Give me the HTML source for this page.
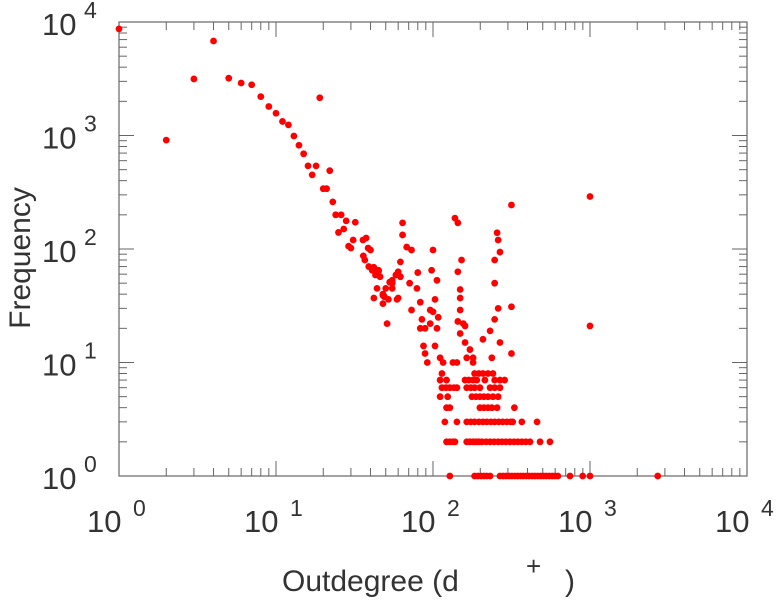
<!DOCTYPE html>
<html><head><meta charset="utf-8"><style>
html,body{margin:0;padding:0;background:#fff;}
svg{display:block;font-family:"Liberation Sans",sans-serif;}
</style></head><body>
<svg id="chart" width="779" height="600" viewBox="0 0 779 600" xmlns="http://www.w3.org/2000/svg">
<rect x="119" y="22" width="628" height="454" fill="none" stroke="#666" stroke-width="1.2"/>
<g id="ticks"></g>
<g id="labels"></g>
<g id="pts"></g>
<text transform="translate(30,258) rotate(-90)" text-anchor="middle" font-size="30" fill="#333">Frequency</text>
<text x="282" y="591" font-size="30" fill="#333">Outdegree (d</text>
<text x="526" y="575" font-size="26" fill="#333">+</text>
<text x="565" y="591" font-size="30" fill="#333">)</text>
</svg>
<script>
const xTicks=[1,10,100,1000,10000];
const xTickExp=["0","1","2","3","4"];
const yTicks=[1,10,100,1000,10000];
const yTickExp=["0","1","2","3","4"];
const outdegree=[1,2,3,4,5,6,7,8,9,10,11,12,13,14,15,16,17,18,19,20,21,22,23,24,25,26,27,28,29,30,31,32,
35.8,37.5,38.6,36,36.8,39,41,43,45,46,50,52,48,51,55,55,58,62,59,49,42,
40,42,45,44,48,48,53,55,60,60,64,64,68,73,62,71,80,79,73,83,85,83,89,87,89,92,98,100,106,103,96,100,108,96,106,103,111,116,
138,144,152,144,149,149,149,144,156,160,160,149,164,142,134,172,180,180,256,260,267,247,247,260,247,231,267,208,237,316,316,316,1000,1000,
114,184,196,208,224,241,
111,122,160,169,180,190,214,247,267,286,
114,121,128,136,142,164,174,184,199,231,247,267,
111,124,177,188,199,211,224,241,260,
122,128,199,211,224,237,256,330,
119,142,164,174,184,196,208,220,234,247,262,278,295,312,322,368,460,
122,128,134,138,164,172,180,188,196,205,218,231,245,260,275,291,309,328,347,368,390,415,481,556,
128,184,193,202,211,220,231,267,280,292,305,318,332,346,361,376,393,410,428,446,465,485,506,527,550,574,598,624,746,898,1000,2700];
const frequency=[8700,910,3150,6800,3200,2900,2800,2200,1800,1570,1330,1240,990,820,690,540,450,540,2150,340,340,490,260,200,140,200,150,177,106,102,120,172,
120,125,102,87,80,70,65,59,64,57,45,36,40,22,45,53,59,57,36,38,37,
98,69,65,45,39,33,51,50,63,37,170,133,104,98,77,50,62,45,29,34,24,20,20,14,12,10,65,98,53,36,29,28,25,22,20,14,11,10,
187,170,80,63,44,37,29,23,22,21,15,18,11,10,10,13,11,10,139,120,94,80,50,30,24,19,15,16,11,244,31,12,21,290,
8,8,8,8,8,8,
7,7,7,7,7,7,7,7,7,7,
6,6,6,6,6,6,6,6,6,6,6,6,
5,5,5,5,5,5,5,5,5,
4,4,4,4,4,4,4,4,
3,3,3,3,3,3,3,3,3,3,3,3,3,3,3,3,3,
2,2,2,2,2,2,2,2,2,2,2,2,2,2,2,2,2,2,2,2,2,2,2,2,
1,1,1,1,1,1,1,1,1,1,1,1,1,1,1,1,1,1,1,1,1,1,1,1,1,1,1,1,1,1,1,1];

const L=119,R=747,T=22,B=476;
function xs(v){return L+(R-L)*Math.log10(v)/4;}
function ys(v){return B-(B-T)*Math.log10(v)/4;}
const NS="http://www.w3.org/2000/svg";
function mk(tag,attrs,parent){const e=document.createElementNS(NS,tag);for(const k in attrs)e.setAttribute(k,attrs[k]);parent.appendChild(e);return e;}
const tg=document.getElementById('ticks');
for(let d=0;d<4;d++){
  for(let m=1;m<10;m++){
    const v=Math.pow(10,d)*m; const len=m===1?15:8;
    const x=xs(v), y=ys(v);
    let l=mk('line',{x1:x,x2:x,y1:B,y2:B-len,stroke:'#666','stroke-width':1},tg);
    
    
    l=mk('line',{x1:x,x2:x,y1:T,y2:T+len,stroke:'#666','stroke-width':1},tg);
    
    
    l=mk('line',{x1:L,x2:L+len,y1:y,y2:y,stroke:'#666','stroke-width':1},tg);
    
    
    l=mk('line',{x1:R,x2:R-len,y1:y,y2:y,stroke:'#666','stroke-width':1},tg);
    
    
  }
}
const lg=document.getElementById('labels');
xTicks.forEach((v,i)=>{
  const x=xs(v);
  let t=mk('text',{x:x-32,y:532,'font-size':31,fill:'#333'},lg); t.textContent='10';
  
  
  t=mk('text',{x:x+14,y:516,'font-size':23,fill:'#333'},lg); t.textContent=xTickExp[i];
  
  
});
yTicks.forEach((v,i)=>{
  const y=ys(v);
  let t=mk('text',{x:42,y:y+13,'font-size':31,fill:'#333'},lg); t.textContent='10';
  
  
  t=mk('text',{x:84,y:y-4,'font-size':23,fill:'#333'},lg); t.textContent=yTickExp[i];
  
  
});
const pg=document.getElementById('pts');
for(let i=0;i<outdegree.length;i++){
  const c=mk('circle',{cx:xs(outdegree[i]),cy:ys(frequency[i]),r:3.4,fill:'#ff0000'},pg);
  
  
}
</script>
</body></html>
